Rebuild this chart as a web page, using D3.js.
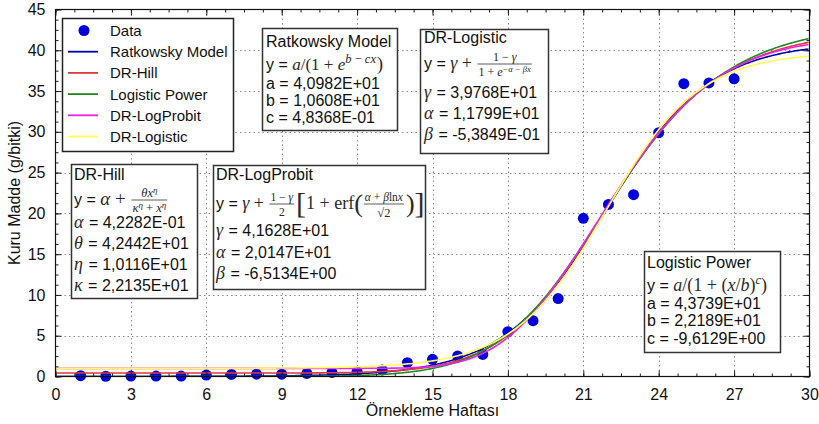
<!DOCTYPE html>
<html>
<head>
<meta charset="utf-8">
<script src="https://cdn.jsdelivr.net/npm/d3@7"></script>
<style>
  html, body { margin: 0; padding: 0; background: #fff; }
  svg { display: block; }
  text { white-space: pre; }
</style>
</head>
<body>
<svg id="chart" width="819" height="424"></svg>
<script>
// Observed dry matter per sampling week
const weeks = [1,2,3,4,5,6,7,8,9,10,11,12,13,14,15,16,17,18,19,20,21,22,23,24,25,26,27];
const dryMatter = [0.1,0.03,0.05,0.05,0.05,0.17,0.25,0.28,0.28,0.37,0.5,0.6,0.8,1.7,2.1,2.5,2.7,5.5,6.85,9.55,19.4,21.1,22.3,29.9,35.9,36.0,36.5];

// Fitted model parameters
const ratkowsky = { a: 4.0982e1, b: 1.0608e1, c: 4.8368e-1 };
const drHill = { alpha: 4.2282e-1, theta: 4.2442e1, eta: 1.0116e1, kappa: 2.2135e1 };
const logisticPower = { a: 4.3739e1, b: 2.2189e1, c: -9.6129 };
const drLogProbit = { gamma: 4.1628e1, alpha: 2.0147e1, beta: -6.5134 };
const drLogistic = { gamma: 3.9768e1, alpha: 1.1799e1, beta: -5.3849e-1 };

const xTicks = [0,3,6,9,12,15,18,21,24,27,30];
const yTicks = [0,5,10,15,20,25,30,35,40,45];
const seriesNames = ["Data","Ratkowsky Model","DR-Hill","Logistic Power","DR-LogProbit","DR-Logistic"];
const seriesColors = ["#0000dd","#0000b0","#e03a3a","#1f8a1f","#ee22ee","#ffff55"];

// error function (Abramowitz–Stegun 7.1.26)
function erf(x) {
  const s = Math.sign(x); x = Math.abs(x);
  const t = 1 / (1 + 0.3275911 * x);
  const y = 1 - (((((1.061405429 * t - 1.453152027) * t) + 1.421413741) * t - 0.284496736) * t + 0.254829592) * t * Math.exp(-x * x);
  return s * y;
}

const models = [
  { name: "Ratkowsky Model", color: seriesColors[1], f: x => ratkowsky.a / (1 + Math.exp(ratkowsky.b - ratkowsky.c * x)) },
  { name: "DR-Hill", color: seriesColors[2], f: x => drHill.alpha + drHill.theta * Math.pow(x, drHill.eta) / (Math.pow(drHill.kappa, drHill.eta) + Math.pow(x, drHill.eta)) },
  { name: "Logistic Power", color: seriesColors[3], f: x => logisticPower.a / (1 + Math.pow(x / logisticPower.b, logisticPower.c)) },
  { name: "DR-LogProbit", color: seriesColors[4], f: x => drLogProbit.gamma + (1 - drLogProbit.gamma) / 2 * (1 + erf((drLogProbit.alpha + drLogProbit.beta * Math.log(x)) / Math.SQRT2)) },
  { name: "DR-Logistic", color: seriesColors[5], f: x => drLogistic.gamma + (1 - drLogistic.gamma) / (1 + Math.exp(-drLogistic.alpha - drLogistic.beta * x)) }
];

const svg = d3.select("#chart");
const SANS = "'Liberation Sans', Arial, Helvetica, sans-serif";
const SERIF = "'Liberation Serif', 'DejaVu Serif', serif";

const margin = { left: 55.5, right: 9.5, top: 9.5, bottom: 47.5 };
const W = 819, H = 424;
const x = d3.scaleLinear().domain([0, 30]).range([margin.left, W - margin.right]);
const y = d3.scaleLinear().domain([0, 45]).range([H - margin.bottom, margin.top]);

// grid
const grid = svg.append("g").attr("stroke", "#8a8a8a").attr("stroke-width", 1).attr("stroke-dasharray", "1.5,3");
grid.selectAll(".gx").data(xTicks.slice(1, -1)).join("line")
  .attr("x1", d => Math.round(x(d)) + 0.5).attr("x2", d => Math.round(x(d)) + 0.5)
  .attr("y1", y(45)).attr("y2", y(0));
grid.selectAll(".gy").data(yTicks.slice(1, -1)).join("line")
  .attr("y1", d => Math.round(y(d)) + 0.5).attr("y2", d => Math.round(y(d)) + 0.5)
  .attr("x1", x(0)).attr("x2", x(30));

// data points
svg.append("g").selectAll("circle").data(weeks).join("circle")
  .attr("cx", (d) => x(d)).attr("cy", (d, i) => y(dryMatter[i]))
  .attr("r", 5.5).attr("fill", seriesColors[0]);

// model curves
const xs = d3.range(0.01, 30.0001, 0.05);
const line = d3.line().x(d => x(d[0])).y(d => y(d[1]));
svg.append("clipPath").attr("id", "plotclip").append("rect")
  .attr("x", x(0)).attr("y", y(45)).attr("width", x(30) - x(0)).attr("height", y(0) - y(45));
svg.append("g").attr("clip-path", "url(#plotclip)").selectAll("path").data(models).join("path")
  .attr("d", m => line(xs.map(v => [v, m.f(v)])))
  .attr("fill", "none").attr("stroke", m => m.color).attr("stroke-width", 1.6);

// axes: ticks pointing inward on all four sides
function inwardAxis(axisGen, transform) {
  return svg.append("g").attr("transform", transform).call(axisGen)
    .call(g => g.select(".domain").remove());
}
const fmt = d3.format("d");
const xMinor = d3.range(0, 30.001, 0.75);
const yMinor = d3.range(0, 45.001, 1.25);

const axB = inwardAxis(d3.axisBottom(x).tickValues(xTicks).tickFormat(fmt).tickSizeInner(-6).tickPadding(12), `translate(0,${y(0)})`);
inwardAxis(d3.axisTop(x).tickValues(xTicks).tickFormat("").tickSizeInner(-6), `translate(0,${y(45)})`);
inwardAxis(d3.axisLeft(y).tickValues(yTicks).tickFormat(fmt).tickSizeInner(-6).tickPadding(10), `translate(${x(0)},0)`);
inwardAxis(d3.axisRight(y).tickValues(yTicks).tickFormat("").tickSizeInner(-6), `translate(${x(30)},0)`);
inwardAxis(d3.axisBottom(x).tickValues(xMinor).tickFormat("").tickSizeInner(-3), `translate(0,${y(0)})`);
inwardAxis(d3.axisTop(x).tickValues(xMinor).tickFormat("").tickSizeInner(-3), `translate(0,${y(45)})`);
inwardAxis(d3.axisLeft(y).tickValues(yMinor).tickFormat("").tickSizeInner(-3), `translate(${x(0)},0)`);
inwardAxis(d3.axisRight(y).tickValues(yMinor).tickFormat("").tickSizeInner(-3), `translate(${x(30)},0)`);
svg.selectAll(".tick line").attr("stroke", "#222");
svg.selectAll(".tick text").attr("font-family", SANS).attr("font-size", 16).attr("fill", "#111");
axB.selectAll(".tick text").attr("dy", "0.71em");

// frame
svg.append("rect").attr("x", x(0)).attr("y", y(45)).attr("width", x(30) - x(0)).attr("height", y(0) - y(45))
  .attr("fill", "none").attr("stroke", "#111").attr("stroke-width", 1.2);

// axis titles
svg.append("text").attr("x", (x(0) + x(30)) / 2).attr("y", 416).attr("text-anchor", "middle")
  .attr("font-family", SANS).attr("font-size", 16).attr("fill", "#111").text("Örnekleme Haftası");
svg.append("text").attr("transform", `translate(20,${(y(0) + y(45)) / 2}) rotate(-90)`).attr("text-anchor", "middle")
  .attr("font-family", SANS).attr("font-size", 16).attr("fill", "#111").text("Kuru Madde (g/bitki)");

// legend
const legend = svg.append("g");
legend.append("rect").attr("x", 62.5).attr("y", 18.5).attr("width", 171).attr("height", 133)
  .attr("fill", "#fff").attr("stroke", "#222").attr("stroke-width", 1.5);
const rowY = d3.scalePoint().domain(seriesNames).range([30.5, 136.5]);
seriesNames.forEach((n, i) => {
  const cy = rowY(n);
  if (i === 0) legend.append("circle").attr("cx", 84).attr("cy", cy).attr("r", 5.5).attr("fill", seriesColors[0]);
  else legend.append("line").attr("x1", 68).attr("x2", 98).attr("y1", cy).attr("y2", cy)
    .attr("stroke", seriesColors[i]).attr("stroke-width", 1.8);
  legend.append("text").attr("x", 110).attr("y", cy + 5.5).attr("font-family", SANS).attr("font-size", 15)
    .attr("fill", "#111").text(n);
});

// --- annotation boxes with formulas ---
// run: {s, f: 'sf'|'it'|'rm', sz, dy}
function drawRun(g, px, base, r) {
  const fam = r.f === "sf" ? SANS : SERIF;
  const t = g.append("text").attr("x", px).attr("y", base + (r.dy || 0))
    .attr("font-family", fam).attr("font-size", r.sz || (r.f === "sf" ? 16 : 17))
    .attr("font-style", r.f === "it" ? "italic" : "normal")
    .attr("fill", r.f === "sf" ? "#111" : "#2a2a2a").text(r.s);
  return t.node().getComputedTextLength() + (r.kern || 0);
}
function measureRuns(g, runs) {
  const tmp = g.append("g").attr("opacity", 0);
  let w = 0; runs.forEach(r => { w += drawRun(tmp, w, 0, r); });
  tmp.remove(); return w;
}
function drawRuns(g, px, base, runs) {
  runs.forEach(r => { px += drawRun(g, px, base, r); });
  return px;
}
function drawMath(g, px, base, items) {
  items.forEach(it => {
    if (it.frac) {
      const wn = measureRuns(g, it.num), wd = measureRuns(g, it.den);
      const w = Math.max(wn, wd) + 4;
      const axis = base - (it.axis || 5);
      g.append("line").attr("x1", px + 1).attr("x2", px + w - 1).attr("y1", axis).attr("y2", axis)
        .attr("stroke", "#333").attr("stroke-width", 0.8);
      drawRuns(g, px + (w - wn) / 2, axis - 3, it.num);
      drawRuns(g, px + (w - wd) / 2, axis + (it.dd || 10), it.den);
      px += w + (it.after || 1);
    } else {
      px += drawRun(g, px, base, it);
    }
  });
  return px;
}
function box(x0, y0, w, h) {
  const g = svg.append("g");
  g.append("rect").attr("x", x0 + 0.5).attr("y", y0 + 0.5).attr("width", w).attr("height", h)
    .attr("fill", "#fff").attr("stroke", "#333").attr("stroke-width", 1.5);
  return g;
}
function sline(g, px, base, s) { drawRun(g, px, base, { s, f: "sf" }); }
function gline(g, px, base, sym, rest) {
  const w = drawRun(g, px, base, { s: sym, f: "it", sz: 18 });
  drawRun(g, px + w + 1, base, { s: rest, f: "sf" });
}
const fmtE = v => {
  const s = v.toExponential(4).replace(".", ",");
  const m = s.match(/^(-?[\d,]+)e([+-])(\d+)$/);
  return m[1] + "E" + m[2] + m[3].padStart(2, "0");
};
const Y = { s: "y = ", f: "sf" };

// Ratkowsky Model
{
  const g = box(262, 28, 135, 102), L = 266;
  sline(g, L, 47, "Ratkowsky Model");
  drawMath(g, L, 70, [Y, { s: "a", f: "it" }, { s: "/(1 + ", f: "rm" }, { s: "e", f: "it" },
    { s: "b", f: "it", sz: 12.5, dy: -7 }, { s: " − ", f: "rm", sz: 12.5, dy: -7 }, { s: "cx", f: "it", sz: 12.5, dy: -7, kern: 1 },
    { s: ")", f: "rm", sz: 18 }]);
  sline(g, L, 89, "a = " + fmtE(ratkowsky.a));
  sline(g, L, 106, "b = " + fmtE(ratkowsky.b));
  sline(g, L, 123, "c = " + fmtE(ratkowsky.c));
}
// DR-Logistic
{
  const g = box(420, 29, 128, 124), L = 424, sm = 12;
  sline(g, L, 43, "DR-Logistic");
  drawMath(g, L, 69, [Y, { s: "γ", f: "it", sz: 18 }, { s: " + ", f: "rm", sz: 18 },
    { frac: true, num: [{ s: "1 − ", f: "rm", sz: sm }, { s: "γ", f: "it", sz: sm }],
      den: [{ s: "1 + ", f: "rm", sz: sm }, { s: "e", f: "it", sz: sm }, { s: "−α − βx", f: "it", sz: 8.5, dy: -4.5 }], dd: 12 }]);
  gline(g, L, 98, "γ", " = " + fmtE(drLogistic.gamma));
  gline(g, L, 119, "α", " = " + fmtE(drLogistic.alpha));
  gline(g, L, 140, "β", " = " + fmtE(drLogistic.beta));
}
// DR-Hill
{
  const g = box(71, 164, 126, 134), L = 74, sm = 12.5;
  sline(g, L, 180, "DR-Hill");
  drawMath(g, L, 205, [Y, { s: "α", f: "it", sz: 19 }, { s: " + ", f: "rm", sz: 19 },
    { frac: true, num: [{ s: "θx", f: "it", sz: sm }, { s: "η", f: "it", sz: 9, dy: -4.5 }],
      den: [{ s: "κ", f: "it", sz: sm }, { s: "η", f: "it", sz: 9, dy: -4.5 }, { s: " + ", f: "rm", sz: sm }, { s: "x", f: "it", sz: sm }, { s: "η", f: "it", sz: 9, dy: -4.5 }], dd: 12 }]);
  gline(g, L, 228, "α", " = " + fmtE(drHill.alpha));
  gline(g, L, 249, "θ", " = " + fmtE(drHill.theta));
  gline(g, L, 270, "η", " = " + fmtE(drHill.eta));
  gline(g, L, 291, "κ", " = " + fmtE(drHill.kappa));
}
// DR-LogProbit
{
  const g = box(213, 165, 212, 124), L = 216, sm = 11.5;
  sline(g, L, 180, "DR-LogProbit");
  drawMath(g, L, 209, [Y, { s: "γ", f: "it", sz: 18 }, { s: " + ", f: "rm", sz: 18 },
    { frac: true, num: [{ s: "1 − ", f: "rm", sz: sm }, { s: "γ", f: "it", sz: sm }], den: [{ s: "2", f: "rm", sz: sm }], dd: 12 },
    { s: "[", f: "rm", sz: 30, dy: 4 }, { s: "1 + erf", f: "rm", sz: 18 }, { s: "(", f: "rm", sz: 26, dy: 3 },
    { frac: true, num: [{ s: "α", f: "it", sz: sm }, { s: " + ", f: "rm", sz: sm }, { s: "β", f: "it", sz: sm }, { s: "ln", f: "rm", sz: sm }, { s: "x", f: "it", sz: sm }],
      den: [{ s: "√2", f: "rm", sz: sm + 1 }], dd: 13 },
    { s: ")", f: "rm", sz: 26, dy: 3 }, { s: "]", f: "rm", sz: 30, dy: 4 }]);
  gline(g, L, 236, "γ", " = " + fmtE(drLogProbit.gamma));
  gline(g, L, 258, "α", " = " + fmtE(drLogProbit.alpha));
  gline(g, L, 279, "β", " = " + fmtE(drLogProbit.beta));
}
// Logistic Power
{
  const g = box(644, 251, 136, 101), L = 647;
  sline(g, L, 268, "Logistic Power");
  drawMath(g, L, 291, [Y, { s: "a", f: "it", sz: 18 }, { s: "/(1 + (", f: "rm", sz: 18 }, { s: "x", f: "it", sz: 18 }, { s: "/", f: "rm", sz: 18 }, { s: "b", f: "it", sz: 18 },
    { s: ")", f: "rm", sz: 18 }, { s: "c", f: "it", sz: 12.5, dy: -7 }, { s: ")", f: "rm", sz: 18 }]);
  sline(g, L, 309, "a = " + fmtE(logisticPower.a));
  sline(g, L, 326, "b = " + fmtE(logisticPower.b));
  sline(g, L, 344, "c = " + fmtE(logisticPower.c));
}
</script>
</body>
</html>
